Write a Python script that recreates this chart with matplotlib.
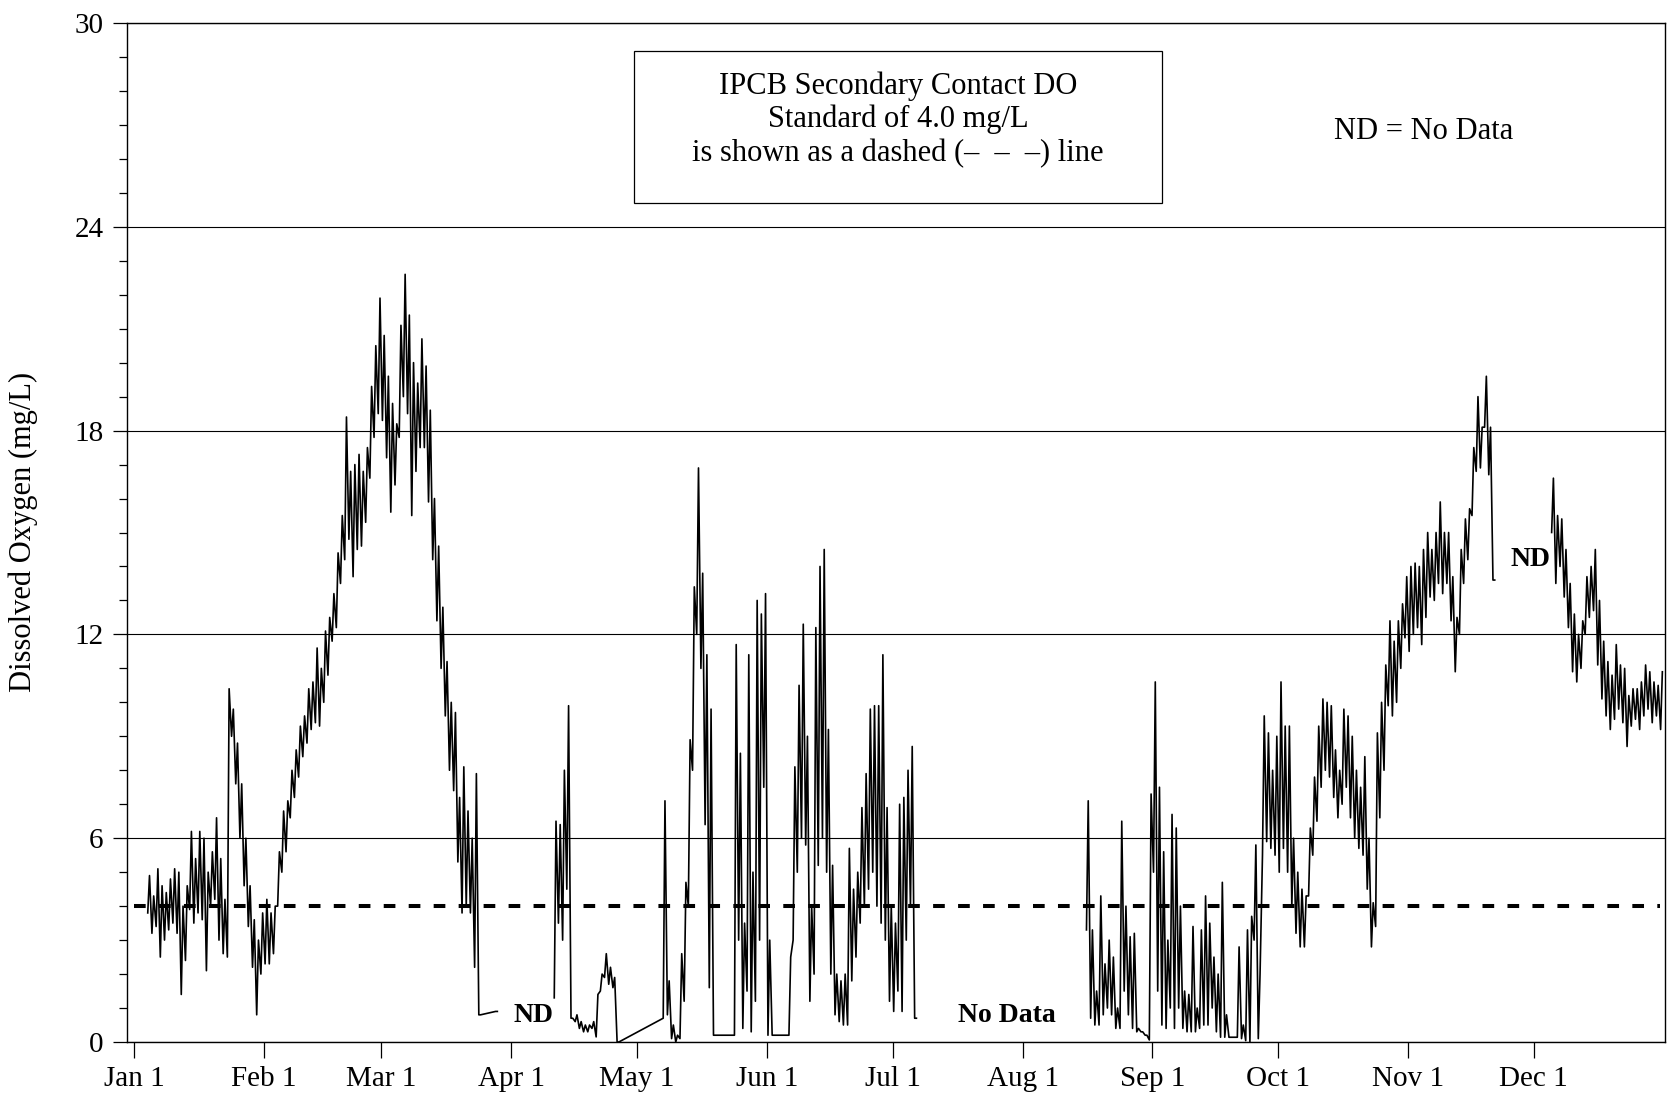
import numpy as np
import matplotlib.pyplot as plt
from matplotlib.patches import Rectangle

plt.rcParams["font.family"] = ["Liberation Serif", "DejaVu Serif"]

# month starts as day of year (day 0 = Jan 1)
month_days = [0, 31, 59, 90, 120, 151, 181, 212, 243, 273, 304, 334]
month_labels = ["Jan 1", "Feb 1", "Mar 1", "Apr 1", "May 1", "Jun 1",
                "Jul 1", "Aug 1", "Sep 1", "Oct 1", "Nov 1", "Dec 1"]

DO_STANDARD = 4.0

# daily low / high dissolved oxygen (mg/L), one value per day from the start day

# Jan 4 - Mar 24
winter_start = 3
winter_low = [
    3.8, 3.2, 3.4, 2.5, 3.0, 3.3, 3.5, 3.2, 1.4, 2.4,
    3.9, 3.5, 3.8, 3.6, 2.1, 4.0, 4.2, 3.0, 2.6, 2.5,
    9.0, 7.6, 6.0, 4.6, 3.4, 2.2, 0.8, 2.0, 2.3, 2.3,
    2.6, 4.0, 5.0, 5.6, 6.6, 7.2, 7.8, 8.4, 8.8, 9.2,
    9.4, 9.3, 10.0, 10.8, 11.8, 12.2, 13.5, 14.2, 14.8, 13.7,
    14.5, 14.6, 15.3, 16.6, 17.8, 18.5, 18.3, 17.2, 15.6, 16.4,
    17.8, 19.0, 18.5, 15.5, 16.8, 17.5, 17.5, 15.9, 14.2, 12.4,
    11.0, 9.6, 8.0, 7.4, 5.3, 3.8, 4.0, 3.8, 2.2, 0.8,
]
winter_high = [
    4.9, 4.3, 5.1, 4.6, 4.4, 4.8, 5.1, 5.0, 4.0, 4.6,
    6.2, 5.4, 6.2, 6.0, 5.0, 5.6, 6.6, 5.4, 4.2, 10.4,
    9.8, 8.8, 7.6, 6.0, 4.6, 3.6, 3.0, 3.8, 4.2, 3.8,
    4.0, 5.6, 6.8, 7.1, 8.0, 8.6, 9.3, 9.6, 10.4, 10.6,
    11.6, 11.0, 12.1, 12.5, 13.2, 14.4, 15.5, 18.4, 16.8, 17.0,
    17.3, 16.8, 17.5, 19.3, 20.5, 21.9, 20.8, 19.6, 18.8, 18.2,
    21.1, 22.6, 21.4, 20.0, 19.4, 20.7, 19.9, 18.6, 16.0, 14.6,
    12.8, 11.2, 10.0, 9.7, 7.2, 8.1, 6.8, 6.0, 7.9, 0.8,
]
# last reading before the March gap
march_end_start = 86
march_end_low = [0.9]
march_end_high = [0.9]

# Apr 11 - Apr 25
april_start = 100
april_low = [1.3, 3.5, 3.0, 4.5, 0.7, 0.6, 0.4, 0.3, 0.3, 0.4, 0.15, 1.5, 1.9, 1.7, 1.6, 0.0]
april_high = [6.5, 6.4, 8.0, 9.9, 0.7, 0.8, 0.6, 0.5, 0.5, 0.6, 1.4, 2.0, 2.6, 2.2, 1.9, 0.0]

# May 7 - Jul 6
summer_start = 126
summer_low = [
    0.7, 0.8, 0.1, 0.0, 0.1, 1.2, 4.0, 8.0, 12.0, 11.0,
    6.4, 1.6, 0.2, 0.2, 0.2, 0.2, 0.2, 0.2, 3.0, 0.4,
    1.5, 0.3, 1.2, 3.0, 7.5, 0.2, 0.2, 0.2, 0.2, 0.2,
    0.2, 3.0, 5.0, 6.0, 5.8, 1.2, 2.0, 5.2, 6.0, 5.0,
    2.0, 0.8, 0.6, 0.5, 0.5, 1.8, 2.5, 3.5, 4.0, 4.5,
    5.0, 4.0, 3.5, 3.0, 1.2, 0.9, 1.5, 0.9, 3.0, 4.0,
    0.7,
]
summer_high = [
    7.1, 1.8, 0.5, 0.2, 2.6, 4.7, 8.9, 13.4, 16.9, 13.8,
    11.4, 9.8, 0.2, 0.2, 0.2, 0.2, 0.2, 11.7, 8.5, 3.5,
    11.4, 5.0, 13.0, 12.6, 13.2, 3.0, 0.2, 0.2, 0.2, 0.2,
    2.5, 8.1, 10.5, 12.3, 9.0, 4.0, 12.2, 14.0, 14.5, 9.2,
    5.2, 2.0, 1.8, 2.0, 5.7, 4.5, 5.0, 6.9, 7.9, 9.8,
    9.9, 9.9, 11.4, 6.9, 4.0, 3.5, 7.0, 7.2, 8.0, 8.7,
    0.7,
]

# Aug 16 - Nov 21
fall_start = 227
fall_low = [
    3.3, 0.7, 0.5, 0.5, 0.8, 1.0, 0.8, 0.4, 0.4, 1.5,
    0.8, 0.4, 0.3, 0.3, 0.2, 0.06, 5.0, 1.5, 0.5, 0.4,
    1.0, 0.4, 1.0, 0.4, 0.3, 0.3, 0.3, 0.4, 0.5, 0.5,
    1.0, 0.3, 0.14, 0.14, 0.14, 0.14, 0.14, 0.1, 0.04, 0.0,
    3.0, 0.1, 5.5, 5.9, 5.7, 5.5, 5.0, 5.7, 5.0, 4.0,
    3.2, 2.8, 2.8, 4.3, 5.5, 6.5, 7.5, 8.0, 7.8, 7.2,
    6.6, 7.0, 7.5, 6.6, 6.0, 5.7, 5.5, 4.5, 2.8, 3.4,
    6.6, 8.0, 9.9, 9.6, 10.0, 11.0, 11.9, 11.5, 12.0, 12.2,
    11.7, 12.5, 13.1, 13.0, 13.5, 13.2, 13.5, 12.4, 10.9, 12.0,
    13.5, 14.2, 15.5, 16.8, 16.9, 18.1, 16.7, 13.6,
]
fall_high = [
    7.1, 3.3, 1.5, 4.3, 2.3, 3.0, 2.5, 1.0, 6.5, 4.0,
    3.1, 3.2, 0.4, 0.3, 0.2, 7.3, 10.6, 7.5, 5.6, 3.0,
    6.7, 6.3, 4.0, 1.5, 1.4, 3.4, 1.0, 3.3, 4.3, 3.5,
    2.5, 2.0, 4.7, 0.8, 0.14, 0.14, 2.8, 0.5, 3.3, 3.7,
    5.8, 2.0, 9.6, 9.1, 8.0, 9.0, 10.6, 9.3, 9.3, 6.0,
    5.0, 4.5, 4.3, 6.3, 7.8, 9.3, 10.1, 10.0, 9.9, 8.6,
    8.0, 9.8, 9.6, 9.0, 8.0, 7.5, 8.4, 6.0, 4.1, 9.1,
    10.0, 11.1, 12.4, 11.8, 12.4, 12.9, 13.7, 14.0, 14.1, 14.0,
    14.5, 15.0, 14.5, 15.0, 15.9, 15.0, 15.0, 13.7, 12.5, 14.5,
    15.4, 15.7, 17.5, 19.0, 18.1, 19.6, 18.1, 13.6,
]

# Dec 5 - Dec 31
december_start = 338
december_low = [
    15.0, 13.5, 14.0, 13.1, 12.2, 10.9, 10.6, 11.0, 12.0, 12.5,
    12.7, 11.1, 10.1, 9.6, 9.2, 9.5, 9.8, 9.4, 8.7, 9.3,
    9.5, 9.2, 9.6, 9.8, 9.4, 9.6, 9.2,
]
december_high = [
    16.6, 15.5, 15.4, 14.5, 13.5, 12.6, 12.0, 12.4, 13.7, 14.0,
    14.5, 13.0, 11.8, 11.2, 10.8, 11.7, 11.1, 11.0, 10.2, 10.4,
    10.4, 10.6, 11.1, 10.9, 10.6, 10.5, 10.9,
]


def trace(start, low, high):
    # early-morning low and afternoon high for each day
    days = start + np.arange(len(low))
    t = np.column_stack([days + 0.25, days + 0.67]).ravel()
    v = np.column_stack([low, high]).ravel()
    return t, v


def run(*pieces):
    # pieces of one run are joined by a straight line across missing days
    parts = [trace(*p) for p in pieces]
    return np.concatenate([p[0] for p in parts]), np.concatenate([p[1] for p in parts])


runs = [
    run((winter_start, winter_low, winter_high),
        (march_end_start, march_end_low, march_end_high)),
    run((april_start, april_low, april_high),
        (summer_start, summer_low, summer_high)),
    run((fall_start, fall_low, fall_high)),
    run((december_start, december_low, december_high)),
]

W, H = 1669, 1102
fig = plt.figure(figsize=(W / 100, H / 100), dpi=100)
ax = fig.add_axes([127 / W, 1 - 1042 / H, (1665 - 127) / W, (1042 - 23) / H])

for t, v in runs:
    ax.plot(t, v, color="black", lw=1.2, zorder=3)

ax.plot([0, 364], [DO_STANDARD, DO_STANDARD], color="black", lw=2.9,
        ls=(0, (2.9, 3.3)), dash_capstyle="butt", zorder=4)

ax.set_xlim(-1.7, 365.3)
ax.set_ylim(0, 30)
ax.set_yticks(np.arange(0, 31, 6))
ax.set_yticks(np.arange(0, 31, 1), minor=True)
ax.set_xticks(month_days)
ax.set_xticklabels(month_labels)
ax.yaxis.grid(True, which="major", color="black", lw=0.8)
ax.set_axisbelow(True)

ax.tick_params(axis="y", which="major", direction="out", length=10, width=0.9,
               pad=7, labelsize=21)
ax.tick_params(axis="y", which="minor", direction="out", length=6, width=0.9)
ax.tick_params(axis="x", which="major", direction="out", length=11.5, width=0.9,
               pad=6, labelsize=21)
for spine in ax.spines.values():
    spine.set_linewidth(1.0)

fig.text(23 / W, 0.517, "Dissolved Oxygen (mg/L)", rotation=90,
         ha="center", va="center", fontsize=22)

# gap labels
ax.text(95.3, 0.6, "ND", ha="center", va="baseline", fontsize=20, fontweight="bold")
ax.text(208.3, 0.6, "No Data", ha="center", va="baseline", fontsize=20, fontweight="bold")
ax.text(333.3, 14.0, "ND", ha="center", va="baseline", fontsize=20, fontweight="bold")

# standard note box
fig.patches.append(Rectangle((634 / W, 1 - 203 / H), (1162 - 634) / W, (203 - 51) / H,
                             transform=fig.transFigure, fill=False,
                             edgecolor="black", lw=0.9))
note_lines = ["IPCB Secondary Contact DO", "Standard of 4.0 mg/L",
              "is shown as a dashed (\u2013  \u2013  \u2013) line"]
for y_px, line in zip([94, 127, 161], note_lines):
    fig.text(898 / W, 1 - y_px / H, line, ha="center", va="baseline", fontsize=22)

fig.text(1334 / W, 1 - 139 / H, "ND = No Data", ha="left", va="baseline", fontsize=22)

fig.savefig("out.png", dpi=100)
